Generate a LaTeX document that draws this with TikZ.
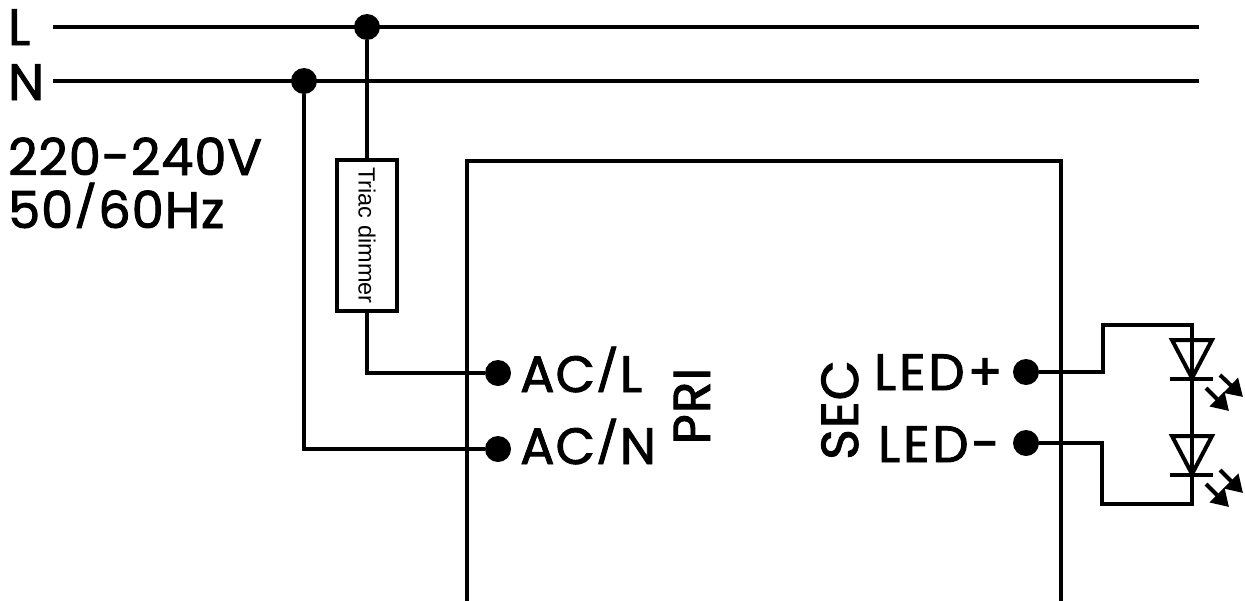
\documentclass[tikz,border=0pt]{standalone}
\usepackage{fontspec}
\usepackage{graphicx}
\setmainfont{Poppins}[FakeBold=1.8,LetterSpace=2]
\newfontfamily\smallfont{Liberation Sans}
\newcommand{\slashmark}{\kern1pt\raisebox{\depth}{\scalebox{0.95}[0.8]{/}}\kern1pt}
\usetikzlibrary{arrows.meta}
\tikzset{
  x=1pt,y=-1pt,
  wire/.style={line width=4pt,draw=black},
  dotnode/.style={circle,fill=black,draw=none,minimum size=26pt,inner sep=0pt},
  lab/.style={inner sep=0pt,anchor=base west,font=\fontsize{51}{51}\selectfont},
  labled/.style={lab,font=\fontsize{51}{51}\selectfont\addfontfeatures{LetterSpace=6}},
  labv/.style={inner sep=0pt,anchor=base,rotate=90,font=\fontsize{52}{52}\selectfont},
  dimmerbox/.style={draw=black,line width=4pt,fill=white,minimum width=60pt,minimum height=151pt,inner sep=0pt},
  ledtri/.style={line width=4pt,draw=black,line join=miter},
  ray/.style={line width=4pt,draw=black,-{Triangle[length=17pt,width=20pt]}},
}
\begin{document}
\begin{tikzpicture}
\useasboundingbox (0,0) rectangle (1245,600);
% mains
\coordinate (Ls) at (53,27); \coordinate (Le) at (1199,27);
\coordinate (Ns) at (53,81); \coordinate (Ne) at (1199,81);
\draw[wire] (Ls) -- (Le);
\draw[wire] (Ns) -- (Ne);
\node[dotnode] (dL) at (367,27) {};
\node[dotnode] (dN) at (304,81) {};
% driver box, open at the picture's lower edge
\coordinate (b1) at (467,602); \coordinate (b2) at (467,161);
\coordinate (b3) at (1061,161); \coordinate (b4) at (1061,602);
\draw[wire] (b1) -- (b2) -- (b3) -- (b4);
% dimmer
\node[dimmerbox] (dim) at (367,235.5) {};
\node[rotate=-90,inner sep=0pt,font=\smallfont\fontsize{23.5}{24}\selectfont] (dimt) at (367,235.5) {Triac dimmer};
% terminals
\node[dotnode] (tL) at (498,373) {};
\node[dotnode] (tN) at (498,449) {};
\node[dotnode] (tP) at (1026,372) {};
\node[dotnode] (tM) at (1026,443) {};
% wires
\draw[wire] (dL) -- (dim.north);
\draw[wire] (dim.south) |- (tL);
\draw[wire] (dN) |- (tN);
% LED loop
\coordinate (p1) at (1103,372); \coordinate (p2) at (1103,325);
\coordinate (p3) at (1192,325); \coordinate (p4) at (1192,504);
\coordinate (p5) at (1102,504); \coordinate (p6) at (1102,443);
\draw[wire,line join=miter] (tP) -- (p1) -- (p2) -- (p3) -- (p4) -- (p5) -- (p6) -- (tM);
% diodes
\draw[ledtri] (1172,340) -- (1212,340) -- (1192,378) -- cycle;
\draw[ledtri] (1170,379) -- (1213,379);
\draw[ledtri] (1172,436) -- (1212,436) -- (1192,474) -- cycle;
\draw[ledtri] (1170,475) -- (1213,475);
% rays
\draw[ray] (1220,375) -- (1243,397);
\draw[ray] (1206,388) -- (1229,411);
\draw[ray] (1220,470) -- (1243,493);
\draw[ray] (1206,484) -- (1229,507);
% labels
\node[lab] (tl) at (8,45) {L};
\node[lab] (tn) at (8,100) {N};
\node[lab] (tv) at (8,175) {220-240V};
\node[lab] (thz) at (8,228) {50\slashmark60Hz};
\node[lab] (acl) at (520,392) {AC\slashmark L};
\node[lab] (acn) at (520,464) {AC\slashmark N};
\node[labled] (ledp) at (874,390) {LED+};
\node[labled] (ledm) at (878,462) {LED-};
\node[labv] (pri) at (710,406) {PRI};
\node[labv] (sec) at (858,410) {SEC};
\end{tikzpicture}
\end{document}
